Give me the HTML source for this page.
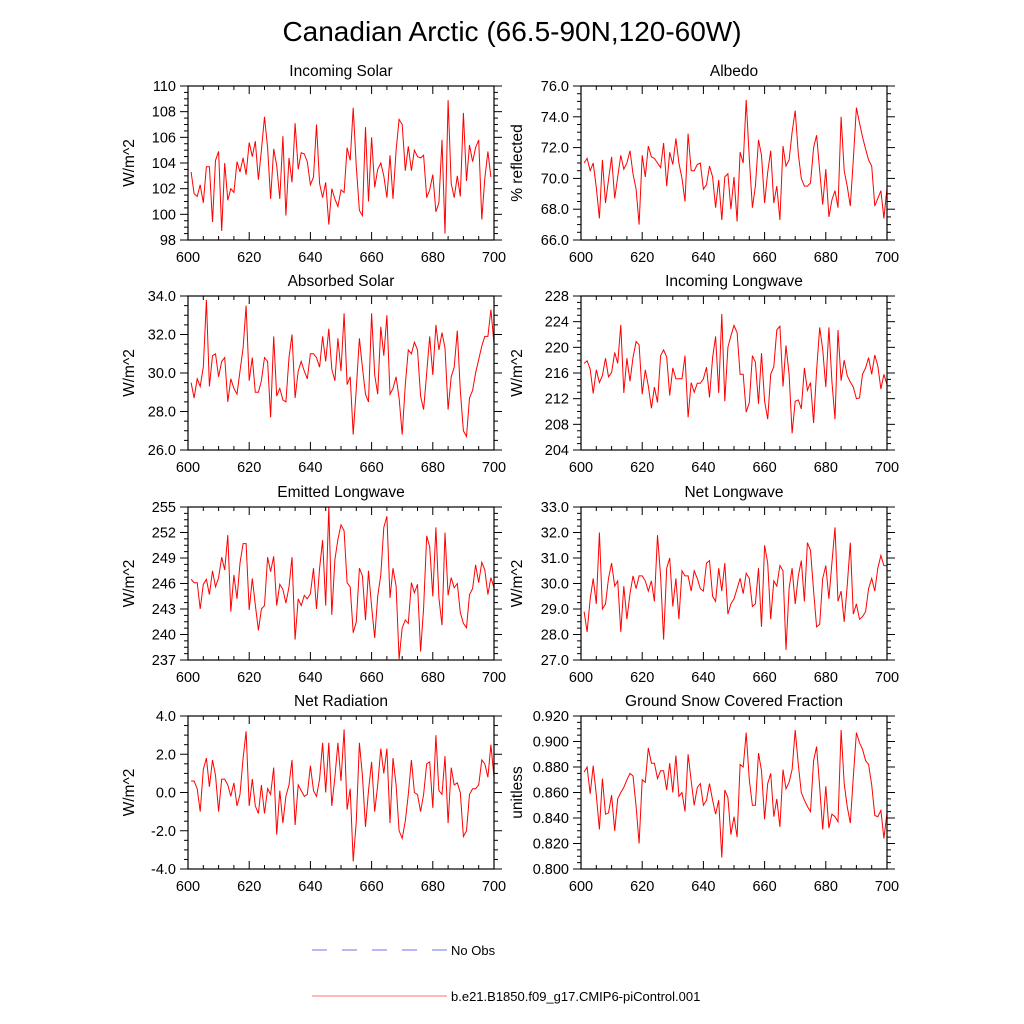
<!DOCTYPE html>
<html><head><meta charset="utf-8">
<style>
html,body{margin:0;padding:0;background:#fff;}
svg{display:block;font-family:"Liberation Sans",Arial,sans-serif;}
</style></head>
<body>
<svg id="fig" width="1024" height="1024" viewBox="0 0 1024 1024">
<text x="512" y="41" text-anchor="middle" font-size="28">Canadian Arctic (66.5-90N,120-60W)</text>
<g>
<line x1="312" y1="950" x2="447" y2="950" stroke="#7070ee" stroke-width="1" stroke-dasharray="15,15"/>
<text x="451" y="955" font-size="13">No Obs</text>
<line x1="312" y1="996" x2="447" y2="996" stroke="#ff7070" stroke-width="1"/>
<text x="451" y="1001" font-size="13">b.e21.B1850.f09_g17.CMIP6-piControl.001</text>
</g>
</svg>
<script>
const xTicks = [600,620,640,660,680,700];
const solarVals = [103.3,101.6,101.4,102.3,100.9,103.7,103.7,99.4,104.2,104.9,98.7,104.0,101.1,102.0,101.7,104.1,103.3,104.4,103.1,105.6,104.5,105.7,102.7,105.0,107.6,105.2,101.2,105.1,103.8,101.2,106.1,99.9,104.4,102.5,107.1,103.5,104.8,104.7,104.1,102.3,102.9,107.0,102.4,101.3,102.5,99.2,102.0,101.2,100.6,101.9,101.7,105.2,104.2,108.3,103.7,100.3,99.9,106.8,101.0,106.0,102.1,103.5,104.0,103.0,101.3,104.6,101.2,105.0,107.4,107.0,103.4,105.3,103.4,105.0,104.5,104.4,104.6,101.3,101.9,103.1,100.2,100.9,105.8,98.5,108.9,102.4,101.3,103.0,101.4,107.9,102.6,105.4,104.1,105.2,105.8,99.6,102.8,104.9,102.9];
const albedoVals = [71.0,71.3,70.5,71.0,69.4,67.4,71.2,68.4,69.9,71.4,68.7,70.1,71.5,70.6,71.0,71.8,70.3,69.3,67.0,71.5,70.1,72.1,71.4,71.3,71.0,70.7,72.3,69.5,71.7,70.9,72.6,71.0,70.0,68.5,72.9,70.5,70.5,70.9,71.0,69.3,69.6,70.8,70.1,68.1,69.9,67.3,70.1,70.3,68.0,70.1,67.2,71.7,71.0,75.1,71.3,68.1,69.5,72.5,71.5,68.4,70.4,71.8,68.4,69.5,67.3,72.1,70.8,71.2,73.0,74.4,71.6,70.0,69.5,69.5,69.7,72.0,72.8,70.5,68.3,70.6,67.5,68.6,69.2,68.1,74.0,70.5,69.5,68.2,71.2,74.6,73.6,72.7,71.9,71.2,70.8,68.2,68.7,69.2,67.4,69.4];
const absorbedVals = [29.5,28.7,29.7,29.3,30.3,33.8,29.3,30.9,31.0,29.8,30.6,30.8,28.5,29.7,29.2,28.9,30.1,31.3,33.5,29.6,30.8,29.0,29.0,29.6,30.8,30.6,27.7,31.9,28.8,29.2,28.6,28.5,30.8,32.0,28.7,30.1,30.6,30.1,29.7,31.0,31.0,30.8,30.3,31.9,30.6,32.3,30.2,29.6,31.8,30.1,33.1,29.4,29.8,26.8,29.2,31.8,30.3,28.9,28.5,33.1,29.9,28.9,32.4,30.9,33.0,28.9,29.2,29.8,28.7,26.8,29.4,31.2,31.0,31.6,31.2,28.8,28.1,30.0,31.9,29.9,32.5,31.2,32.1,31.3,28.1,29.8,30.3,32.2,29.1,27.0,26.7,28.7,29.1,30.0,30.7,31.4,31.9,31.9,33.3,31.5];
const inLwVals = [217.5,217.9,216.6,212.8,216.5,214.5,215.6,218.3,215.4,216.1,219.2,217.5,223.5,212.9,218.3,214.7,218.4,220.9,220.4,212.7,216.5,214.0,210.5,213.8,211.4,218.7,219.6,218.5,212.5,216.8,215.1,215.1,215.1,218.7,209.1,214.5,213.0,214.4,214.4,215.1,216.9,212.2,218.4,221.7,212.9,225.2,211.6,220.0,221.8,223.4,222.3,215.8,215.8,209.9,211.4,218.7,217.7,211.2,219.1,211.6,208.8,215.8,217.0,222.7,223.3,213.9,220.3,215.8,206.6,211.6,211.8,210.4,216.8,213.3,214.5,208.2,216.4,223.1,219.7,213.8,223.1,214.7,208.8,222.7,214.8,218.0,215.6,214.6,213.8,212.0,212.1,215.8,216.8,218.4,215.8,218.8,217.1,213.5,215.8,214.2];
const emLwVals = [246.5,246.1,246.1,243.0,245.9,246.5,244.7,247.5,245.6,246.7,249.1,247.6,251.7,242.7,247.0,244.2,248.4,250.7,250.7,242.9,246.6,243.5,240.5,243.0,243.4,249.1,247.4,249.2,243.4,245.9,245.3,243.7,245.6,249.1,239.4,244.2,243.4,244.6,244.2,244.8,247.8,243.0,247.8,251.1,243.4,255.0,242.3,248.8,251.2,252.9,252.2,246.1,245.6,240.2,241.5,247.8,246.9,241.7,247.5,243.3,239.6,244.5,247.0,252.6,253.9,244.3,247.8,245.7,237.1,240.8,241.7,241.3,246.1,244.9,245.9,238.0,243.1,251.6,250.3,244.5,252.6,244.3,241.1,252.0,244.6,246.7,245.5,246.0,242.6,241.3,240.8,244.7,245.4,248.2,246.1,248.5,247.6,244.7,246.7,245.5];
const netLwVals = [28.9,28.1,29.4,30.2,29.2,32.0,29.0,29.2,30.2,30.8,29.9,30.1,28.1,29.9,28.6,29.6,30.3,29.8,30.3,30.3,30.1,29.7,30.1,29.3,31.9,30.3,27.8,30.6,31.0,29.1,30.2,28.6,30.5,30.3,30.3,29.7,30.5,30.2,29.8,29.7,30.8,30.9,29.5,29.3,30.6,29.7,30.8,28.8,29.2,29.4,29.8,30.2,29.6,30.4,30.2,29.1,29.2,30.6,28.3,31.5,30.8,28.6,30.1,29.9,30.7,30.5,27.4,29.8,30.6,29.2,30.3,30.9,29.3,31.6,31.3,29.7,28.3,28.4,30.2,30.7,29.4,30.8,32.2,29.3,29.7,28.5,29.9,31.6,28.8,29.2,28.6,28.7,28.9,29.8,30.2,29.7,30.6,31.1,30.7,30.7];
const netRadVals = [0.6,0.6,0.2,-1.0,1.2,1.8,0.3,1.7,0.9,-1.0,0.7,0.7,0.4,-0.2,0.5,-0.7,-0.1,1.8,3.2,-0.7,0.7,-0.7,-1.1,0.4,-1.1,0.2,-0.1,1.3,-2.2,0.1,-1.6,-0.2,0.4,1.7,-1.7,0.4,0.1,-0.2,-0.1,1.4,0.1,-0.2,0.7,2.6,0.0,2.6,-0.7,0.8,2.6,0.6,3.3,-0.9,0.2,-3.6,-1.5,2.6,0.9,-1.8,0.1,1.6,-1.0,0.4,2.3,1.0,2.3,-1.6,1.8,0.4,-2.0,-2.4,-1.5,-0.1,1.7,0.0,-0.1,-1.0,-0.1,1.5,1.6,-0.8,3.0,0.1,-0.1,1.9,-1.6,1.3,0.4,0.5,0.0,-2.3,-2.0,-0.1,0.2,0.2,0.4,1.7,1.5,0.8,2.5,0.8];
const snowVals = [0.876,0.880,0.859,0.881,0.858,0.831,0.871,0.843,0.844,0.858,0.830,0.855,0.860,0.864,0.870,0.875,0.873,0.849,0.820,0.870,0.868,0.895,0.883,0.883,0.871,0.877,0.877,0.862,0.883,0.860,0.889,0.857,0.860,0.845,0.890,0.869,0.850,0.864,0.867,0.850,0.854,0.867,0.854,0.843,0.854,0.809,0.862,0.856,0.827,0.841,0.825,0.882,0.880,0.907,0.870,0.850,0.850,0.891,0.877,0.839,0.867,0.875,0.841,0.855,0.833,0.878,0.863,0.868,0.878,0.909,0.882,0.860,0.854,0.849,0.845,0.885,0.896,0.864,0.831,0.865,0.832,0.843,0.841,0.837,0.909,0.867,0.849,0.836,0.872,0.907,0.899,0.894,0.885,0.882,0.866,0.842,0.841,0.846,0.824,0.844];
const solarTicks = [98,100,102,104,106,108,110];
const albedoTicks = [66.0,68.0,70.0,72.0,74.0,76.0];
const absorbedTicks = [26.0,28.0,30.0,32.0,34.0];
const inLwTicks = [204,208,212,216,220,224,228];
const emLwTicks = [237,240,243,246,249,252,255];
const netLwTicks = [27.0,28.0,29.0,30.0,31.0,32.0,33.0];
const netRadTicks = [-4.0,-2.0,0.0,2.0,4.0];
const snowTicks = [0.800,0.820,0.840,0.860,0.880,0.900,0.920];

const NS = "http://www.w3.org/2000/svg";
const svg = document.getElementById('fig');
function mk(tag, attrs, parent){
  const e = document.createElementNS(NS, tag);
  for (const k in attrs) e.setAttribute(k, attrs[k]);
  parent.appendChild(e);
  return e;
}
const cols = [[188,494],[581,887]];
const rows = [[86,240],[296,450],[507,660],[716,869]];
const panels = [
  {key:'incoming-solar', title:'Incoming Solar', ytitle:'W/m^2', vals:solarVals, ticks:solarTicks, dec:0, start:601, c:0, r:0},
  {key:'albedo', title:'Albedo', ytitle:'% reflected', vals:albedoVals, ticks:albedoTicks, dec:1, start:601, c:1, r:0},
  {key:'absorbed-solar', title:'Absorbed Solar', ytitle:'W/m^2', vals:absorbedVals, ticks:absorbedTicks, dec:1, start:601, c:0, r:1},
  {key:'incoming-longwave', title:'Incoming Longwave', ytitle:'W/m^2', vals:inLwVals, ticks:inLwTicks, dec:0, start:601, c:1, r:1},
  {key:'emitted-longwave', title:'Emitted Longwave', ytitle:'W/m^2', vals:emLwVals, ticks:emLwTicks, dec:0, start:601, c:0, r:2},
  {key:'net-longwave', title:'Net Longwave', ytitle:'W/m^2', vals:netLwVals, ticks:netLwTicks, dec:1, start:601, c:1, r:2},
  {key:'net-radiation', title:'Net Radiation', ytitle:'W/m^2', vals:netRadVals, ticks:netRadTicks, dec:1, start:601, c:0, r:3},
  {key:'snow-fraction', title:'Ground Snow Covered Fraction', ytitle:'unitless', vals:snowVals, ticks:snowTicks, dec:3, start:601, c:1, r:3}
];
panels.forEach(p => {
  const [x0,x1] = cols[p.c], [y0,y1] = rows[p.r];
  const g = mk('g', {}, svg);
  
  
  const tmin = p.ticks[0], tmax = p.ticks[p.ticks.length-1];
  const xs = v => x0 + (v - 600) / 100 * (x1 - x0);
  const ys = v => y1 - (v - tmin) / (tmax - tmin) * (y1 - y0);
  const tk = mk('g', {stroke:'#000','stroke-width':1}, g);
  
  
  for (let i = 0; i < p.ticks.length; i++) {
    const yy = ys(p.ticks[i]);
    mk('line', {x1:x0-8, y1:yy, x2:x0, y2:yy}, tk);
    mk('line', {x1:x1, y1:yy, x2:x1+8, y2:yy}, tk);
    if (i < p.ticks.length - 1) {
      for (let m = 1; m < 4; m++) {
        const ym = ys(p.ticks[i] + (p.ticks[i+1]-p.ticks[i]) * m / 4);
        mk('line', {x1:x0-4, y1:ym, x2:x0, y2:ym}, tk);
        mk('line', {x1:x1, y1:ym, x2:x1+4, y2:ym}, tk);
      }
    }
    const lbl = mk('text', {x:x0-12, y:yy+5, 'text-anchor':'end', 'font-size':14.5, stroke:'none'}, g);
    
    
    lbl.textContent = p.ticks[i].toFixed(p.dec);
  }
  xTicks.forEach((t, i) => {
    const xx = xs(t);
    mk('line', {x1:xx, y1:y0, x2:xx, y2:y0+8}, tk);
    mk('line', {x1:xx, y1:y1-8, x2:xx, y2:y1}, tk);
    if (i < xTicks.length - 1) {
      for (let m = 1; m < 4; m++) {
        const xm = xs(t + 5*m);
        mk('line', {x1:xm, y1:y0, x2:xm, y2:y0+4}, tk);
        mk('line', {x1:xm, y1:y1-4, x2:xm, y2:y1}, tk);
      }
    }
    const lbl = mk('text', {x:xx, y:y1+22, 'text-anchor':'middle', 'font-size':14.5}, g);
    
    
    lbl.textContent = t;
  });
  const pts = p.vals.map((v, i) => xs(p.start + i).toFixed(1) + ',' + ys(v).toFixed(1)).join(' ');
  const line = mk('polyline', {points:pts, fill:'none', stroke:'#ff0000', 'stroke-width':1, 'stroke-linejoin':'miter'}, g);
  
  
  const box = mk('rect', {x:x0, y:y0, width:x1-x0, height:y1-y0, fill:'none', stroke:'#000', 'stroke-width':1.2}, g);
  
  
  const t = mk('text', {x:(x0+x1)/2, y:y0-10, 'text-anchor':'middle', 'font-size':15.5}, g);
  
  
  t.textContent = p.title;
  const ytx = p.c === 0 ? 134 : 522;
  const yc = (y0 + y1) / 2;
  const yt = mk('text', {x:ytx, y:yc, 'text-anchor':'middle', 'font-size':15.5, transform:'rotate(-90 '+ytx+' '+yc+')'}, g);
  
  
  yt.textContent = p.ytitle;
});
</script>
</body></html>
